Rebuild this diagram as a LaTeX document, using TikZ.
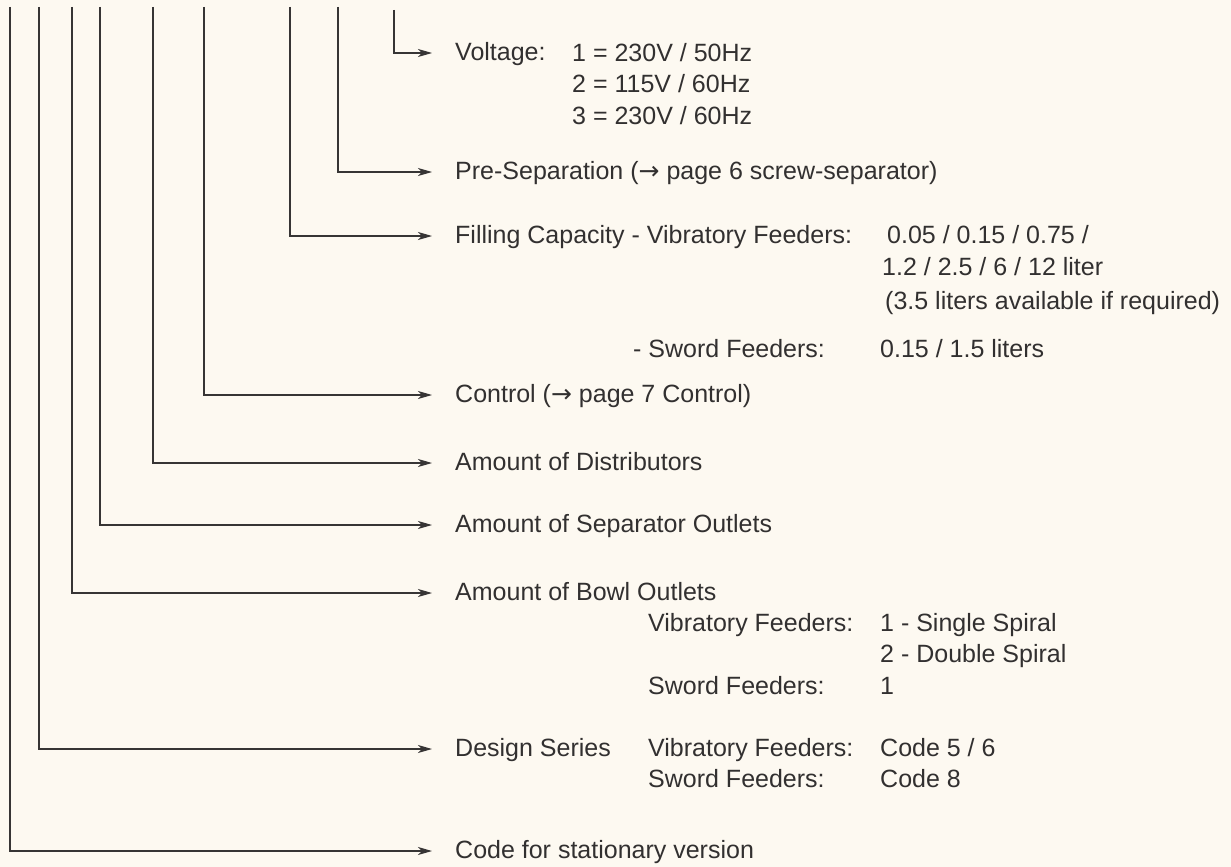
\documentclass[tikz,border=0pt]{standalone}
\usepackage{fontspec}
\setmainfont{Liberation Sans}
\newfontfamily\arrowfont{DejaVu Sans}
\usetikzlibrary{arrows.meta}
\definecolor{bg}{RGB}{253,249,241}
\definecolor{ink}{RGB}{50,48,48}
\definecolor{wire}{RGB}{55,53,53}
\newcommand{\refarrow}{{\arrowfont →}}
\begin{document}
\begin{tikzpicture}[x=1pt,y=-1pt,
  lbl/.style={font=\fontsize{25}{30}\selectfont, text=ink, inner sep=0pt,
              text height=18pt, text depth=3pt, anchor=west},
  conn/.style={draw=wire, line width=1.1pt,
               -{Stealth[length=14pt,width=8pt,inset=4pt]}, shorten >=23pt}]
\fill[bg] (0,0) rectangle (1231,867);
\useasboundingbox (0,0) rectangle (1231,867);

% tops of the vertical lines
\coordinate (t1) at (10,7);
\coordinate (t2) at (39,7);
\coordinate (t3) at (72,7);
\coordinate (t4) at (100,7);
\coordinate (t5) at (153,7);
\coordinate (t6) at (204,7);
\coordinate (t7) at (290,7);
\coordinate (t8) at (338,7);
\coordinate (t9) at (394,10);

% main labels
\node[lbl] (volt) at (455,53) {Voltage:};
\node[lbl] (pre)  at (455,172) {Pre-Separation (\refarrow\ page 6 screw-separator)};
\node[lbl] (fill) at (455,236) {Filling Capacity - Vibratory Feeders:};
\node[lbl] (ctrl) at (455,395) {Control (\refarrow\ page 7 Control)};
\node[lbl] (dist) at (455,463) {Amount of Distributors};
\node[lbl] (sep)  at (455,525) {Amount of Separator Outlets};
\node[lbl] (bowl) at (455,593) {Amount of Bowl Outlets};
\node[lbl] (des)  at (455,749) {Design Series};
\node[lbl] (code) at (455,851) {Code for stationary version};

% voltage values
\node[lbl] (v1) at (572,54) {1 = 230V / 50Hz};
\node[lbl] (v2) at (572,85) {2 = 115V / 60Hz};
\node[lbl] (v3) at (572,117) {3 = 230V / 60Hz};

% filling capacity values
\node[lbl] (f1) at (887,236) {0.05 / 0.15 / 0.75 /};
\node[lbl] (f2) at (882,268) {1.2 / 2.5 / 6 / 12 liter};
\node[lbl] (f3) at (885,302) {(3.5 liters available if required)};
\node[lbl] (fs) at (633,350) {- Sword Feeders:};
\node[lbl] (fsv) at (880,350) {0.15 / 1.5 liters};

% bowl outlets values
\node[lbl] (bv)  at (648,624) {Vibratory Feeders:};
\node[lbl] (bv1) at (880,624) {1 - Single Spiral};
\node[lbl] (bv2) at (880,655) {2 - Double Spiral};
\node[lbl] (bs)  at (648,687) {Sword Feeders:};
\node[lbl] (bs1) at (880,687) {1};

% design series values
\node[lbl] (dv)  at (648,749) {Vibratory Feeders:};
\node[lbl] (dv1) at (880,749) {Code 5 / 6};
\node[lbl] (ds)  at (648,780) {Sword Feeders:};
\node[lbl] (ds1) at (880,780) {Code 8};

% connectors
\draw[conn] (t1) |- (code);
\draw[conn] (t2) |- (des);
\draw[conn] (t3) |- (bowl);
\draw[conn] (t4) |- (sep);
\draw[conn] (t5) |- (dist);
\draw[conn] (t6) |- (ctrl);
\draw[conn] (t7) |- (fill);
\draw[conn] (t8) |- (pre);
\draw[conn] (t9) |- (volt);
\end{tikzpicture}
\end{document}
